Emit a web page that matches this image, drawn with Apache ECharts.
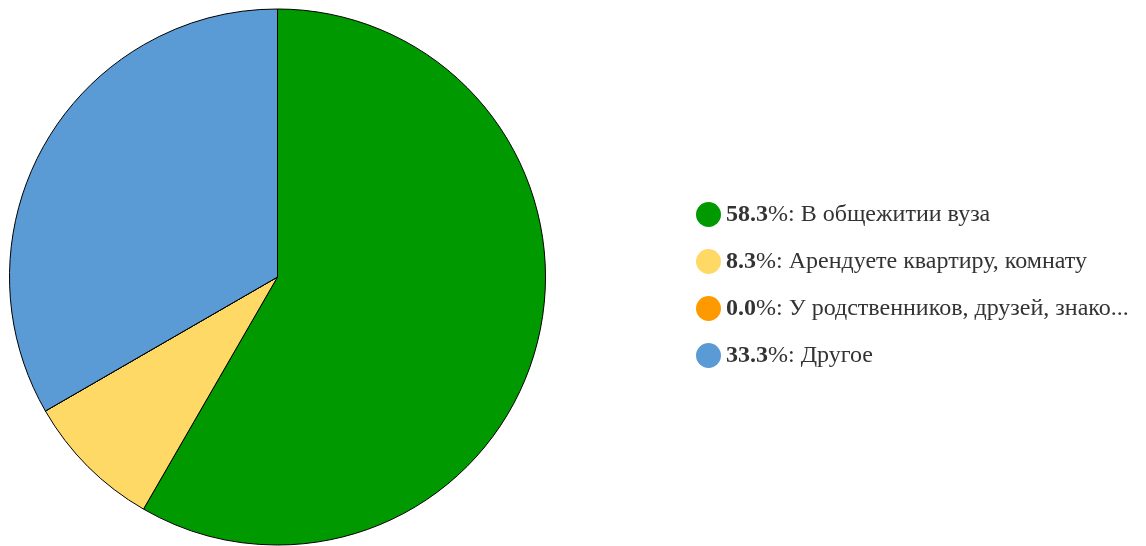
<!DOCTYPE html>
<html><head><meta charset="utf-8">
<script src="https://cdn.jsdelivr.net/npm/echarts@6/dist/echarts.min.js"></script>
<style>html,body{margin:0;padding:0;background:#fff}#c{width:1146px;height:546px}</style>
</head><body><div id="c"></div>
<script>
const categories = ['В общежитии вуза', 'Арендуете квартиру, комнату', 'У родственников, друзей, знако...', 'Другое'];
const values = [7, 1, 0, 4];
const colors = ['#009900', '#FFD966', '#FF9900', '#5B9BD5'];
const total = values.reduce((a, b) => a + b, 0);
const chart = echarts.init(document.getElementById('c'));
chart.setOption({
  animation: false,
  color: colors,
  legend: {
    orient: 'vertical',
    left: 691,
    top: 197,
    icon: 'circle',
    itemWidth: 25,
    itemHeight: 25,
    itemGap: 22,
    itemStyle: { borderWidth: 0 },
    textStyle: {
      fontFamily: 'Liberation Serif',
      fontSize: 24,
      lineHeight: 25,
      color: '#333',
      rich: {
        p: { fontFamily: 'Liberation Serif', fontSize: 24, lineHeight: 25, fontWeight: 'bold', color: '#333' },
        t: { fontFamily: 'Liberation Serif', fontSize: 24, lineHeight: 25, color: '#333' }
      }
    },
    formatter: function (name) {
      const i = categories.indexOf(name);
      const pct = (values[i] / total * 100).toFixed(1);
      return '{p|' + pct + '}{t|%: ' + name + '}';
    },
    data: categories
  },
  series: [{
    type: 'pie',
    center: [277.5, 277],
    radius: [0, 268],
    startAngle: 90,
    clockwise: true,
    label: { show: false },
    labelLine: { show: false },
    itemStyle: { borderColor: '#000', borderWidth: 1 },
    emphasis: { disabled: true },
    data: categories.map((n, i) => ({ name: n, value: values[i] }))
  }]
});
</script></body></html>
